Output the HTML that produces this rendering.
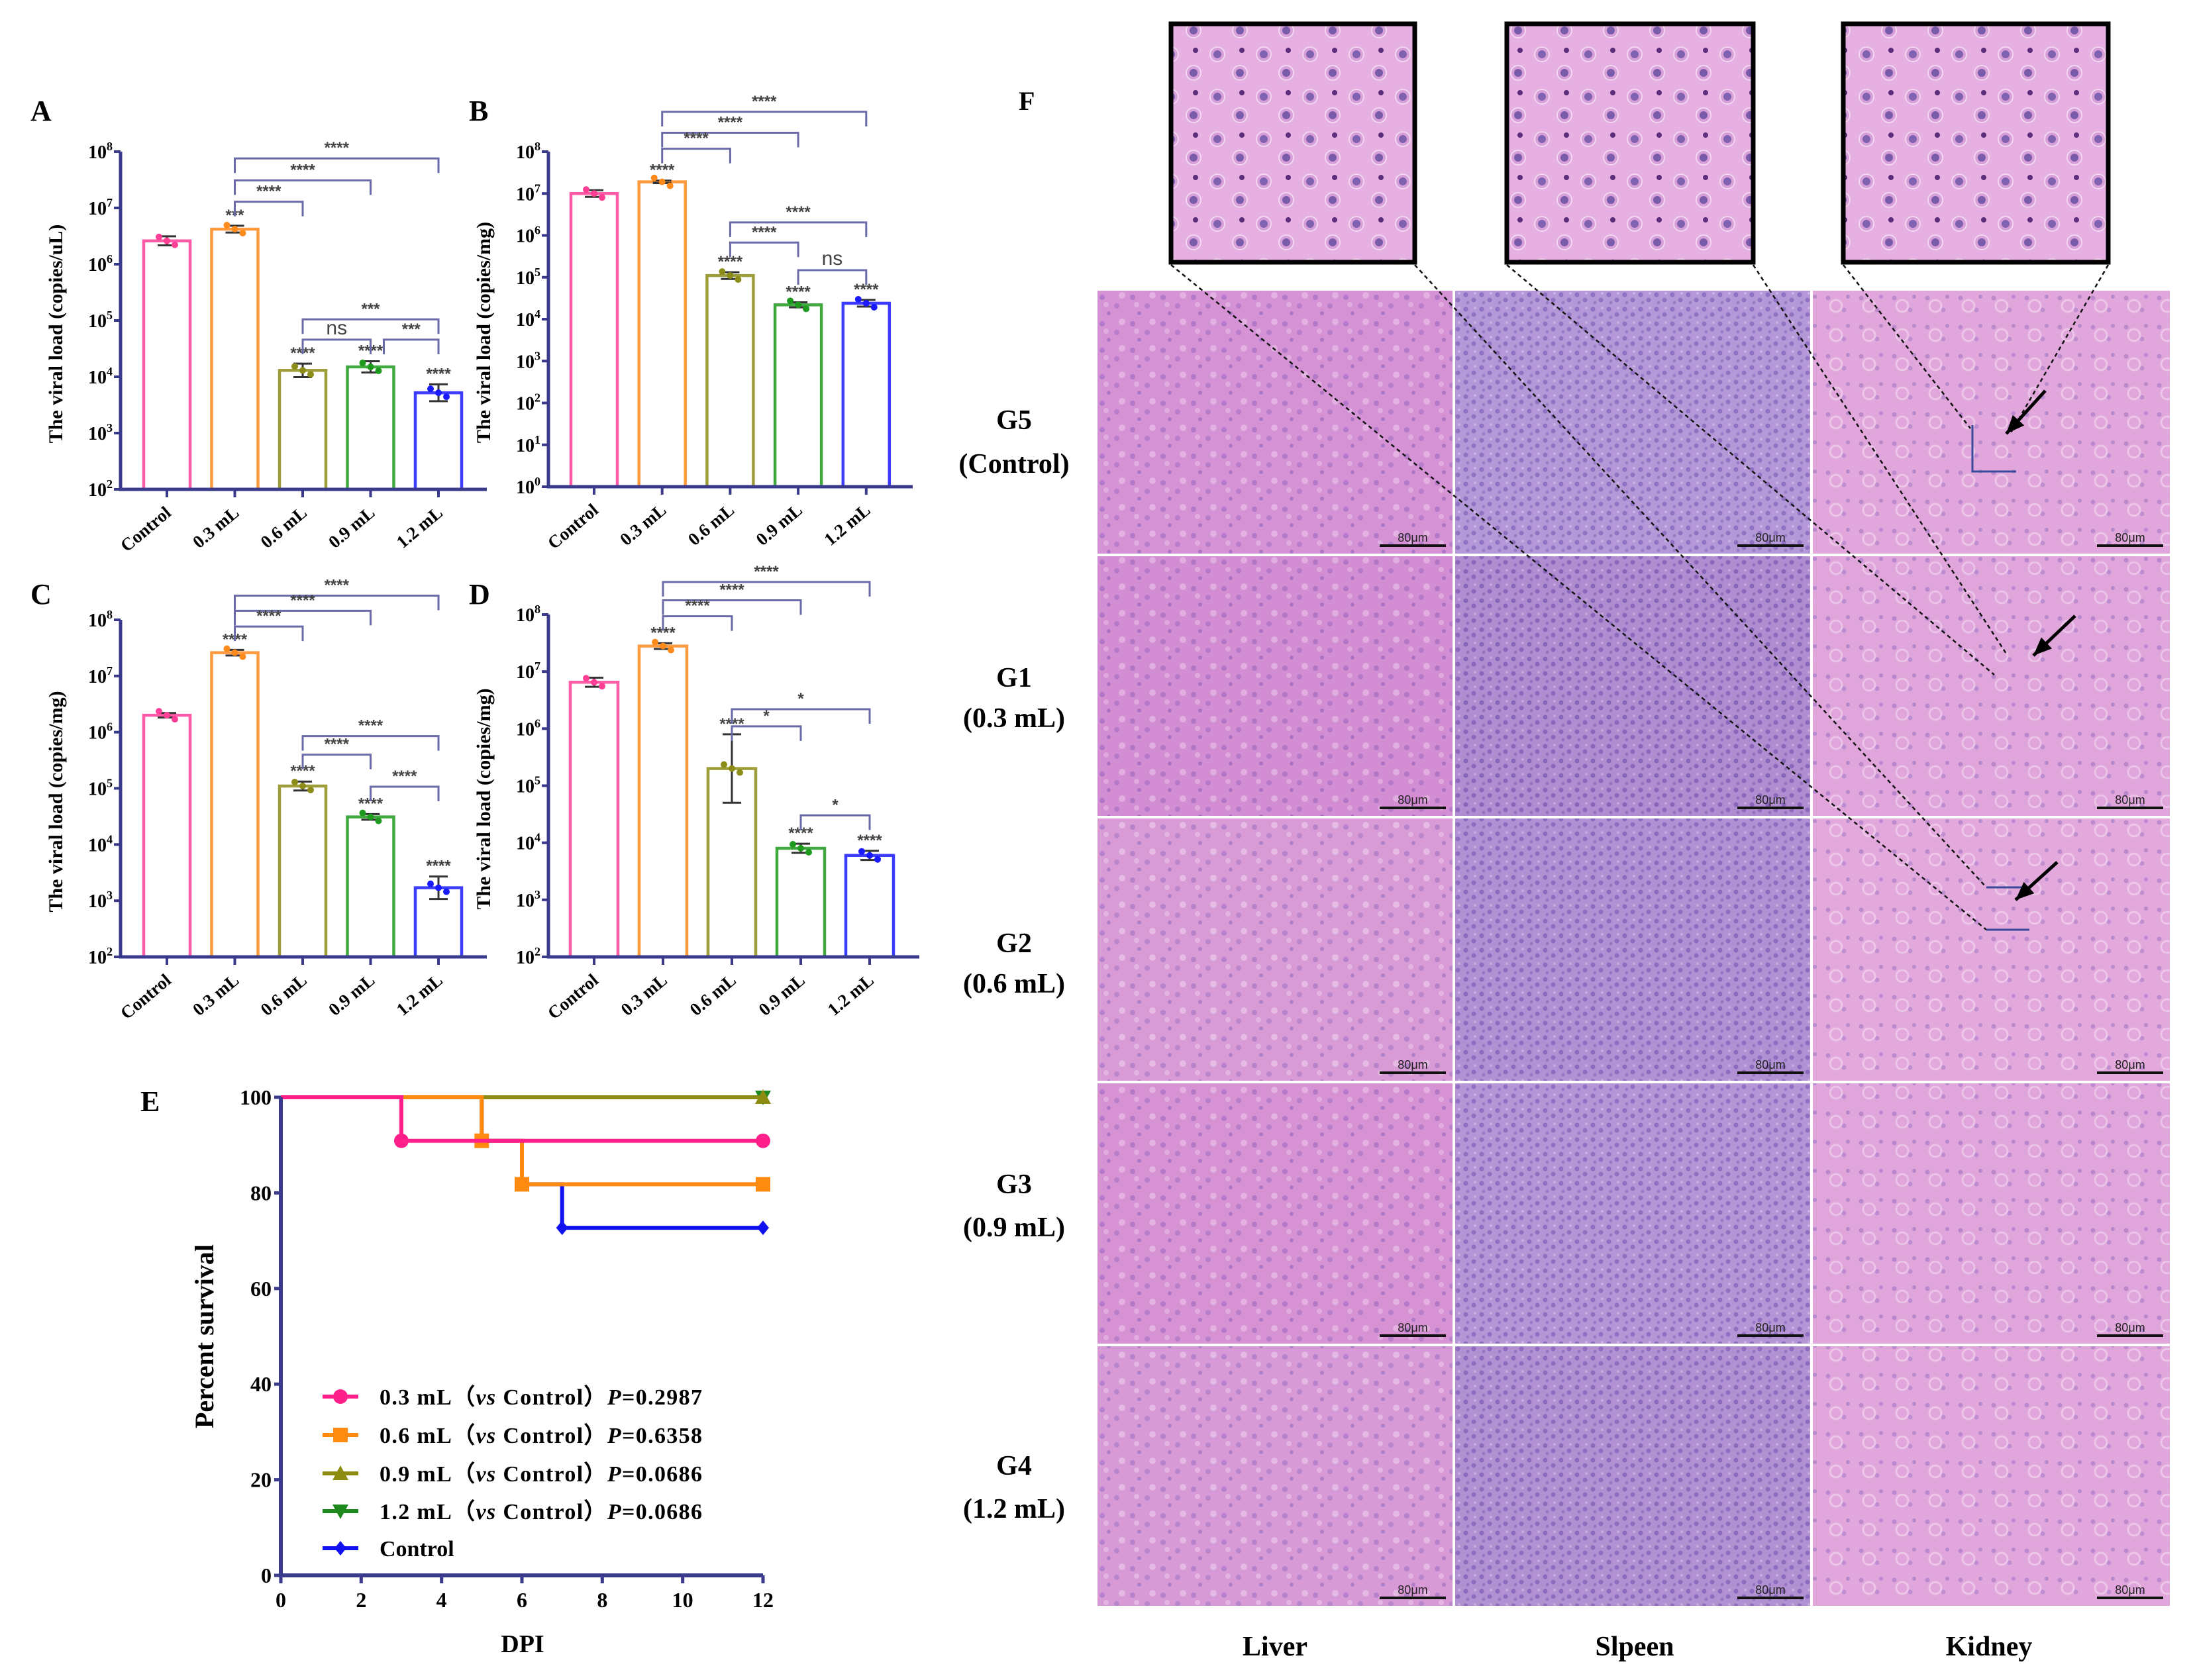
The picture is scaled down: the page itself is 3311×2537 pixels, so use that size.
<!DOCTYPE html>
<html><head><meta charset="utf-8">
<style>
html,body{margin:0;padding:0;background:#fff;}
svg{display:block;font-family:"Liberation Serif",serif;}
</style></head>
<body>
<svg id="fig" xmlns="http://www.w3.org/2000/svg" width="3311" height="2537" viewBox="0 0 3311 2537">
<defs>
<pattern id="pLiver" width="46" height="40" patternUnits="userSpaceOnUse">
<rect width="46" height="40" fill="#d795d4"/>
<circle cx="8" cy="9" r="4" fill="#9a6ac0"/><circle cx="30" cy="22" r="4" fill="#a070c4"/><circle cx="18" cy="33" r="3" fill="#8f63b8"/>
<circle cx="38" cy="6" r="5" fill="#f0d0ee"/><circle cx="14" cy="20" r="4" fill="#ecc6ea"/>
</pattern>
<pattern id="pSpleen" width="24" height="22" patternUnits="userSpaceOnUse">
<rect width="24" height="22" fill="#b796d6"/>
<circle cx="5" cy="5" r="3.5" fill="#6f4fae"/><circle cx="17" cy="13" r="3.5" fill="#7454b2"/><circle cx="8" cy="17" r="2.5" fill="#8364ba"/>
<circle cx="19" cy="3" r="2" fill="#ddc6ea"/>
</pattern>
<pattern id="pKidney" width="50" height="44" patternUnits="userSpaceOnUse">
<rect width="50" height="44" fill="#e0a7dc"/>
<circle cx="10" cy="10" r="3.5" fill="#9a70c2"/><circle cx="34" cy="28" r="3.5" fill="#a078c6"/><circle cx="40" cy="8" r="3" fill="#9370bf"/>
<circle cx="22" cy="22" r="9" fill="none" stroke="#f4dcf2" stroke-width="3"/>
</pattern>
<pattern id="pInset" width="70" height="64" patternUnits="userSpaceOnUse">
<rect width="70" height="64" fill="#e6b0e2"/>
<circle cx="18" cy="18" r="11" fill="#d8a0d8" stroke="#f3d6f1" stroke-width="2"/><circle cx="18" cy="18" r="6" fill="#8062b0"/>
<circle cx="52" cy="46" r="11" fill="#d8a0d8" stroke="#f3d6f1" stroke-width="2"/><circle cx="52" cy="46" r="6" fill="#7a5aaa"/>
<circle cx="55" cy="12" r="4" fill="#5a2c7a"/>
</pattern>
</defs>
<g id="charts"></g>
<g id="histo"></g>
</svg>
<script>
const NS="http://www.w3.org/2000/svg";
const svg=document.getElementById('fig');
const charts=document.getElementById('charts');
const histo=document.getElementById('histo');
function mk(tag,attrs,parent,text){const e=document.createElementNS(NS,tag);for(const k in attrs)e.setAttribute(k,attrs[k]);if(text!==undefined)e.textContent=text;(parent||charts).appendChild(e);return e;}

// ---------- DATA ----------
const groups=["Control","0.3 mL","0.6 mL","0.9 mL","1.2 mL"];
const groupColors=["#ff3e96","#ff8a1c","#8c8c18","#1e9a1e","#1a1aff"];
const valuesA=[2.6e6,4.2e6,1.3e4,1.5e4,5.2e3];
const valuesB=[1.0e7,1.9e7,1.1e5,2.2e4,2.4e4];
const valuesC=[2.0e6,2.6e7,1.1e5,3.1e4,1.7e3];
const valuesD=[6.5e6,2.8e7,2.0e5,8.0e3,6.0e3];
const errA=[0.08,0.06,0.12,0.1,0.15];
const errB=[0.08,0.03,0.08,0.06,0.08];
const errC=[0.04,0.05,0.08,0.05,0.2];
const errD=[0.08,0.05,0.6,0.08,0.08];
const starsA=["","***","****","****","****"];
const starsB=["","****","****","****","****"];
const starsC=["","****","****","****","****"];
const starsD=["","****","****","****","****"];
// brackets: [from, to, log-height, label]
const bracketsA=[[1,4,7.88,"****"],[1,3,7.49,"****"],[1,2,7.11,"****"],[2,4,5.02,"***"],[2,3,4.66,"ns"],[3.1,4,4.66,"***"]];
const bracketsB=[[1,4,8.95,"****"],[1,3,8.45,"****"],[1,2,8.07,"****"],[2,4,6.31,"****"],[2,3,5.83,"****"],[3,4,5.17,"ns"]];
const bracketsC=[[1,4,8.43,"****"],[1,3,8.16,"****"],[1,2,7.88,"****"],[2,4,5.93,"****"],[2,3,5.6,"****"],[3,4,5.03,"****"]];
const bracketsD=[[1,4,8.57,"****"],[1,3,8.25,"****"],[1,2,7.97,"****"],[2,4,6.34,"*"],[2,3,6.04,"*"],[3,4,4.48,"*"]];

const survDays=[0,2,4,6,8,10,12];
const survTicks=[0,20,40,60,80,100];
const survNames=["0.3 mL","0.6 mL","0.9 mL","1.2 mL","Control"];
const survP=["0.2987","0.6358","0.0686","0.0686",""];
const survColors=["#ff1f8a","#ff8a10","#8c8c10","#1e8a1e","#1010f0"];
const survT0=[[0,3,12],[0,5,6,12],[0,12],[0,12],[0,5,6,7,12]];
const survV0=[[100,90.9,90.9],[100,90.9,81.8,81.8],[100,100],[100,100],[100,90.9,81.8,72.7,72.7]];
const survMarks=["circle","square","tri","itri","diamond"];

const axisCol="#3a3a8c";

function barPanel(id,letter,letterXY,ax,values,errs,stars,brackets,yTitle){
  const g=mk('g',{});
  
  
  const ys=v=>ax.bottom-(Math.log10(v)-ax.minE)/(ax.maxE-ax.minE)*(ax.bottom-ax.top);
  const yl=l=>ax.bottom-(l-ax.minE)/(ax.maxE-ax.minE)*(ax.bottom-ax.top);
  const xc=i=>ax.first+i*ax.step;
  const L=mk('text',{x:letterXY[0],y:letterXY[1],'font-size':44,'font-weight':'bold'},g,letter);
  
  values.forEach((v,i)=>{
    const y=ys(v);
    const r=mk('rect',{x:xc(i)-ax.bw/2,y:y,width:ax.bw,height:ax.bottom-y,fill:'#fff',stroke:groupColors[i],'stroke-width':4.5,'stroke-opacity':0.85},g);
    
    const lo=ax.bottom-(Math.log10(v)-errs[i]-ax.minE)/(ax.maxE-ax.minE)*(ax.bottom-ax.top);
    const hi=ax.bottom-(Math.log10(v)+errs[i]-ax.minE)/(ax.maxE-ax.minE)*(ax.bottom-ax.top);
    const eb=mk('path',{d:`M${xc(i)},${lo}V${hi}M${xc(i)-14},${lo}h28M${xc(i)-14},${hi}h28`,stroke:'#333','stroke-width':3,fill:'none'},g);
    
    [-12,0,12].forEach((dx,k)=>{const c=mk('circle',{cx:xc(i)+dx,cy:y+(k-1)*6,r:5,fill:groupColors[i]},g);
      });
    if(stars[i]){const s=mk('text',{x:xc(i),y:hi-8,'font-size':24,'font-weight':'bold','text-anchor':'middle',fill:'#444','font-family':'Liberation Sans, sans-serif'},g,stars[i]);
      }
  });
  brackets.forEach(b=>{
    const y=yl(b[2]);const x1=xc(Math.floor(b[0]))+(b[0]%1?20:0),x2=xc(b[1]);
    const p=mk('path',{d:`M${x1},${y+22}V${y}H${x2}V${y+22}`,stroke:'#6a6aa8','stroke-width':3,fill:'none'},g);
    
    const t=mk('text',{x:(x1+x2)/2,y:y-8,'font-size':b[3]=='ns'?30:24,'font-weight':b[3]=='ns'?'normal':'bold','text-anchor':'middle',fill:'#444','font-family':'Liberation Sans, sans-serif'},g,b[3]);
    
  });
  const axp=mk('path',{d:`M${ax.x},${ax.top}V${ax.bottom}H${ax.right}`,stroke:axisCol,'stroke-width':5,fill:'none'},g);
  
  for(let e=ax.minE;e<=ax.maxE;e++){
    const y=yl(e);
    mk('line',{x1:ax.x-10,x2:ax.x,y1:y,y2:y,stroke:axisCol,'stroke-width':4},g);
    const t=mk('text',{x:ax.x-12,y:y+10,'font-size':28,'font-weight':'bold','text-anchor':'end'},g);
    
    mk('tspan',{},t,'10');mk('tspan',{dy:-12,'font-size':18},t,String(e));
  }
  groups.forEach((gname,i)=>{
    mk('line',{x1:xc(i),x2:xc(i),y1:ax.bottom,y2:ax.bottom+12,stroke:axisCol,'stroke-width':4},g);
    const t=mk('text',{x:xc(i)+8,y:ax.bottom+38,'font-size':27,'font-weight':'bold','text-anchor':'end',transform:`rotate(-40 ${xc(i)+8} ${ax.bottom+38})`},g,gname);
    
  });
  const cy=(ax.top+ax.bottom)/2+20;
  const tx=ax.x-88;
  const yt=mk('text',{x:tx,y:cy,'font-size':30,'font-weight':'bold','text-anchor':'middle',transform:`rotate(-90 ${tx} ${cy})`},g,yTitle);
  
}
barPanel('a','A',[46,182],{x:182,top:229,bottom:739,right:735,minE:2,maxE:8,first:252,step:102.5,bw:70},valuesA,errA,starsA,bracketsA,"The viral load (copies/uL)");
barPanel('b','B',[708,182],{x:828,top:229,bottom:735,right:1378,minE:0,maxE:8,first:897,step:102.7,bw:70},valuesB,errB,starsB,bracketsB,"The viral load (copies/mg)");
barPanel('c','C',[46,912],{x:182,top:936,bottom:1445,right:735,minE:2,maxE:8,first:252,step:102.5,bw:70},valuesC,errC,starsC,bracketsC,"The viral load (copies/mg)");
barPanel('d','D',[708,912],{x:828,top:928,bottom:1445,right:1388,minE:2,maxE:8,first:897,step:104,bw:72},valuesD,errD,starsD,bracketsD,"The viral load (copies/mg)");

// ---------- Survival E ----------
(function(){
  const g=mk('g',{});
  const X0=424,X1=1152,Y0=2379,Y1=1657;
  const sx=d=>X0+d/12*(X1-X0), sy=v=>Y0-v/100*(Y0-Y1);
  const L=mk('text',{x:212,y:1678,'font-size':44,'font-weight':'bold'},g,'E');
  
  function marker(type,x,y,col,parent){
    let e;
    if(type=='circle')e=mk('circle',{cx:x,cy:y,r:11,fill:col},parent);
    else if(type=='square')e=mk('rect',{x:x-11,y:y-11,width:22,height:22,fill:col},parent);
    else if(type=='tri')e=mk('path',{d:`M${x},${y-12}L${x+12},${y+10}H${x-12}Z`,fill:col},parent);
    else if(type=='itri')e=mk('path',{d:`M${x},${y+12}L${x+12},${y-10}H${x-12}Z`,fill:col},parent);
    else e=mk('path',{d:`M${x},${y-11}L${x+9},${y}L${x},${y+11}L${x-9},${y}Z`,fill:col},parent);
    
  }
  const order=[4,3,2,1,0];
  order.forEach(s=>{
    const T=survT0[s],V=survV0[s];let d=`M${sx(T[0])},${sy(V[0])}`;
    for(let i=1;i<T.length;i++){d+=`H${sx(T[i])}V${sy(V[i])}`;}
    const p=mk('path',{d:d,stroke:survColors[s],'stroke-width':6,fill:'none'},g);
    
    for(let i=1;i<T.length;i++)marker(survMarks[s],sx(T[i]),sy(V[i]),survColors[s],g);
  });
  const ax=mk('path',{d:`M${X0},${Y1}V${Y0}H${X1}`,stroke:axisCol,'stroke-width':6,fill:'none'},g);
  
  survTicks.forEach(v=>{mk('line',{x1:X0-10,x2:X0,y1:sy(v),y2:sy(v),stroke:axisCol,'stroke-width':5},g);
    const t=mk('text',{x:X0-14,y:sy(v)+11,'font-size':32,'font-weight':'bold','text-anchor':'end'},g,String(v));
    });
  survDays.forEach(d=>{mk('line',{x1:sx(d),x2:sx(d),y1:Y0,y2:Y0+12,stroke:axisCol,'stroke-width':5},g);
    const t=mk('text',{x:sx(d),y:Y0+48,'font-size':32,'font-weight':'bold','text-anchor':'middle'},g,String(d));
    });
  const xt=mk('text',{x:789,y:2495,'font-size':38,'font-weight':'bold','text-anchor':'middle'},g,'DPI');
  
  const yt=mk('text',{x:322,y:2018,'font-size':40,'font-weight':'bold','text-anchor':'middle',transform:'rotate(-90 322 2018)'},g,'Percent survival');
  
  const legY=[2109,2167,2225,2282,2338];
  survNames.forEach((n,s)=>{
    const lg=mk('g',{},g);
    mk('line',{x1:487,x2:541,y1:legY[s],y2:legY[s],stroke:survColors[s],'stroke-width':6},lg);
    marker(survMarks[s],514,legY[s],survColors[s],lg);
    const t=mk('text',{x:573,y:legY[s]+12,'font-size':34,'font-weight':'bold'},lg);
    if(survP[s]){t.setAttribute('textLength',487);
      mk('tspan',{},t,n+'（');mk('tspan',{'font-style':'italic'},t,'vs');mk('tspan',{},t,' Control）');
      mk('tspan',{'font-style':'italic'},t,'P');mk('tspan',{},t,'='+survP[s]);}
    else t.textContent=n;
  });
})();

// ---------- Histology F ----------
(function(){
  const colX=[1655,2195,2735,3278];
  const rowY=[437,838,1234,1634,2031,2427];
  const pats=['pLiver','pSpleen','pKidney'];
  const tints=[["#d28ed3","#b39ad8","#e2a8dd"],["#cf84cf","#a581c8","#dfa4dc"],["#d9a2d8","#a98bd2","#e6acdf"],["#d48ed2","#b293d6","#e0a4dc"],["#d6a0d8","#ad8ad0","#e2a8df"]];
  const F=mk('text',{x:1538,y:166,'font-size':40,'font-weight':'bold'},histo,'F');
  
  for(let r=0;r<5;r++)for(let c=0;c<3;c++){
    const x=colX[c]+2,y=rowY[r]+2,w=colX[c+1]-colX[c]-4,h=rowY[r+1]-rowY[r]-4;
    const gt=mk('g',{},histo);
    mk('rect',{x:x,y:y,width:w,height:h,fill:tints[r][c]},gt);
    mk('rect',{x:x,y:y,width:w,height:h,fill:'url(#'+pats[c]+')',opacity:0.55},gt);
    mk('line',{x1:x+w-110,x2:x+w-10,y1:y+h-12,y2:y+h-12,stroke:'#111','stroke-width':4},gt);
    const sb=mk('text',{x:x+w-60,y:y+h-18,'font-size':18,'text-anchor':'middle','font-family':'Liberation Sans, sans-serif',fill:'#222'},gt,'80μm');
    
  }
  const rowLab=[["G5","(Control)"],["G1","(0.3 mL)"],["G2","(0.6 mL)"],["G3","(0.9 mL)"],["G4","(1.2 mL)"]];
  const rowLY=[[648,714],[1037,1098],[1438,1499],[1802,1867],[2227,2292]];
  rowLab.forEach((l,i)=>{
    const g=mk('g',{},histo);
    mk('text',{x:1531,y:rowLY[i][0],'font-size':42,'font-weight':'bold','text-anchor':'middle'},g,l[0]);
    mk('text',{x:1531,y:rowLY[i][1],'font-size':42,'font-weight':'bold','text-anchor':'middle'},g,l[1]);
  });
  [["Liver",1925],["Slpeen",2468],["Kidney",3003]].forEach(c=>{
    const t=mk('text',{x:c[1],y:2500,'font-size':42,'font-weight':'bold','text-anchor':'middle'},histo,c[0]);
    
  });
  const insets=[[1768,36,368,360],[2275,36,372,360],[2783,36,400,360]];
  insets.forEach((b,i)=>{
    const r=mk('rect',{x:b[0],y:b[1],width:b[2],height:b[3],fill:'url(#pInset)',stroke:'#000','stroke-width':7},histo);
    
  });
  const lines=[[1768,400,2999,1404],[2136,400,2999,1340],[2275,400,3011,1019],[2647,400,3029,987],[2783,400,2975,647],[3183,400,3035,655]];
  lines.forEach(l=>{const e=mk('line',{x1:l[0],y1:l[1],x2:l[2],y2:l[3],stroke:'#111','stroke-width':2.5,'stroke-dasharray':'6 5'},histo);
    });
  const bx=mk('path',{d:'M2978,642V712H3044M2999,1340H3064M2999,1404H3064',stroke:'#3a4a9a','stroke-width':3,fill:'none'},histo);
  
  [[3088,590,3029,655],[3133,930,3070,990],[3106,1302,3043,1359]].forEach(a=>{
    const ang=Math.atan2(a[3]-a[1],a[2]-a[0]);const hl=30;
    const p1=[a[2]-hl*Math.cos(ang-0.4),a[3]-hl*Math.sin(ang-0.4)],p2=[a[2]-hl*Math.cos(ang+0.4),a[3]-hl*Math.sin(ang+0.4)];
    const g=mk('g',{},histo);
    mk('line',{x1:a[0],y1:a[1],x2:a[2],y2:a[3],stroke:'#000','stroke-width':5},g);
    mk('path',{d:`M${a[2]},${a[3]}L${p1[0]},${p1[1]}L${p2[0]},${p2[1]}Z`,fill:'#000'},g);
  });
})();
</script>
</body></html>
